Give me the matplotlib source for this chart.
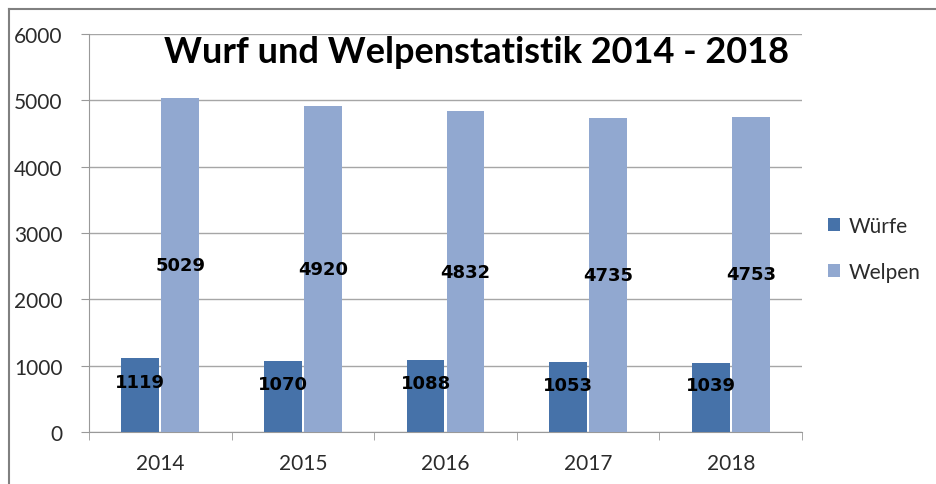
import matplotlib
matplotlib.use("Agg")
from matplotlib import pyplot as plt
from matplotlib.lines import Line2D
import numpy as np

years = ["2014", "2015", "2016", "2017", "2018"]
wuerfe = [1119, 1070, 1088, 1053, 1039]
welpen = [5029, 4920, 4832, 4735, 4753]

plt.rcParams['font.family'] = ['Lato', 'DejaVu Sans']

fig = plt.figure(figsize=(9.37, 4.85), dpi=100)
ax = fig.add_axes([0.095, 0.1072, 0.761, 0.8206])

x = np.arange(len(years))
w = 0.265
b1 = ax.bar(x - 0.14, wuerfe, w, color="#4672a9", label="Würfe", zorder=3)
b2 = ax.bar(x + 0.14, welpen, w, color="#91a8d0", label="Welpen", zorder=3)

for xi, v in zip(x, wuerfe):
    ax.text(xi - 0.14, v * 0.68, str(v), ha="center", va="center", family="DejaVu Sans",
            fontsize=13, fontweight="bold", color="black", zorder=4)
for xi, v in zip(x, welpen):
    ax.text(xi + 0.14, v * 0.5, str(v), ha="center", va="center", family="DejaVu Sans",
            fontsize=13, fontweight="bold", color="black", zorder=4)

ax.set_ylim(0, 6000)
ax.set_xlim(-0.5, 4.5)
ax.set_yticks(np.arange(0, 6001, 1000))
ax.set_xticks(x)
ax.set_xticklabels(years)
ax.set_xticks(np.arange(-0.5, 4.6, 1), minor=True)
ax.tick_params(axis="x", which="major", length=0, pad=15, labelsize=15, labelcolor="#2b2b2b")
ax.tick_params(axis="x", which="minor", length=6, color="#999999", direction="out")
ax.tick_params(axis="y", length=6, color="#999999", labelsize=15, labelcolor="#2b2b2b", pad=13)
ax.grid(axis="y", color="#a6a6a6", linewidth=1, zorder=0)
for s in ["top", "right"]:
    ax.spines[s].set_visible(False)
ax.spines["left"].set_color("#999999")
ax.spines["bottom"].set_color("#999999")

fig.text(0.509, 0.891, "Wurf und Welpenstatistik 2014 - 2018",
         ha="center", va="center", fontsize=26, fontweight="bold", color="black")

ax.legend(loc="center left", bbox_to_anchor=(1.01, 0.461), frameon=False, fontsize=15,
          handlelength=0.6, handleheight=0.6, handletextpad=0.4, labelspacing=1.25,
          labelcolor="#2b2b2b")

# outer frame (only left and top visible)
fig.add_artist(Line2D([0.0096, 0.0096], [0.0, 0.979], transform=fig.transFigure,
                      color="#808080", linewidth=1.5))
fig.add_artist(Line2D([0.0096, 1.0], [0.979, 0.979], transform=fig.transFigure,
                      color="#808080", linewidth=1.5))

fig.savefig("out.png", dpi=100)
